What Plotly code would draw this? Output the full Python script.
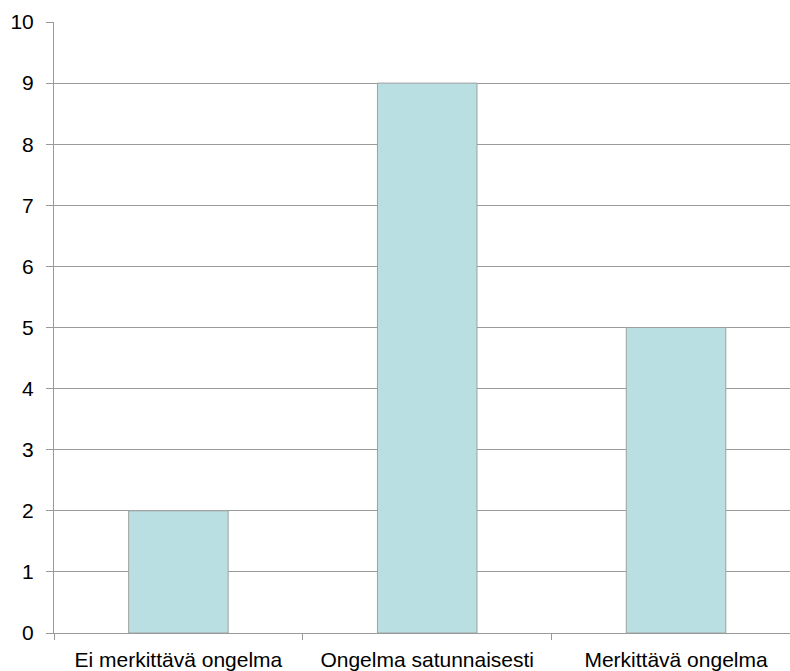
import plotly.graph_objects as go

categories = ["Ei merkittävä ongelma", "Ongelma satunnaisesti", "Merkittävä ongelma"]
values = [2, 9, 5]
y_ticks = list(range(0, 11))

grey = "#9a9a9a"
font = dict(family="Liberation Sans, Arial, sans-serif", size=21, color="#000000")

fig = go.Figure(
    go.Bar(
        x=categories,
        y=values,
        width=0.4,
        marker=dict(color="#b9dfe3", line=dict(color="#a0a0a0", width=1)),
        hoverinfo="x+y",
    )
)

fig.update_layout(
    width=790,
    height=671,
    margin=dict(l=54, r=0, t=22, b=38),
    plot_bgcolor="#ffffff",
    paper_bgcolor="#ffffff",
    font=font,
    showlegend=False,
    bargap=0.6,
)

fig.update_xaxes(
    type="category",
    range=[-0.5, 2.458],
    showline=True,
    linecolor=grey,
    linewidth=1,
    showgrid=False,
    ticks="outside",
    tickson="boundaries",
    ticklen=6,
    tickcolor=grey,
    tickfont=font,
    ticklabelstandoff=8,
)

fig.update_yaxes(
    range=[0, 10],
    tickvals=y_ticks,
    showline=True,
    linecolor=grey,
    linewidth=1,
    showgrid=True,
    gridcolor=grey,
    gridwidth=1,
    zeroline=False,
    ticks="outside",
    ticklen=7,
    tickcolor=grey,
    tickfont=font,
    ticklabelstandoff=8,
)

fig.write_html("out.html")
